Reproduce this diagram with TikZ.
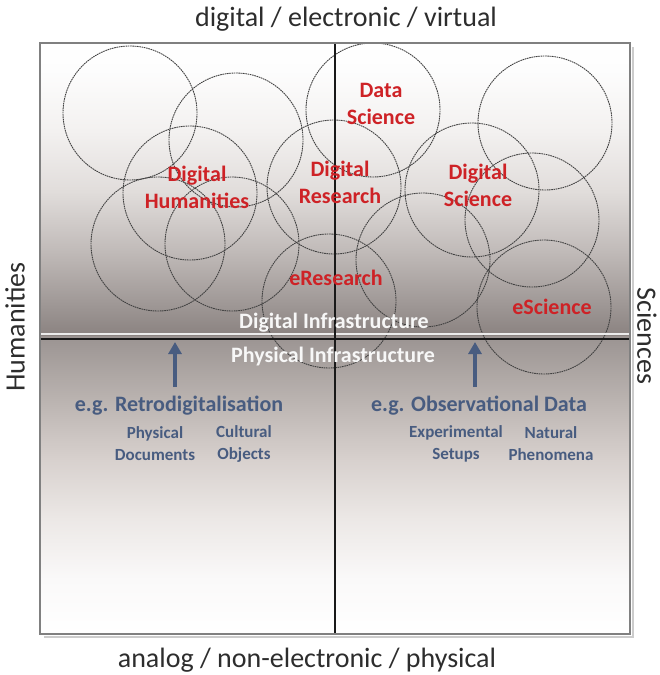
\documentclass[tikz,border=0pt]{standalone}
\usepackage{fontspec}
\setmainfont{Carlito}
\usetikzlibrary{arrows.meta}
\definecolor{redlab}{RGB}{206,34,38}
\definecolor{bluegray}{RGB}{72,92,128}
\definecolor{axistext}{RGB}{45,45,45}
\definecolor{frame}{RGB}{128,128,128}
\definecolor{ub0}{RGB}{138,130,128}
\definecolor{ub1}{RGB}{160,153,151}
\definecolor{ub2}{RGB}{192,186,184}
\definecolor{ub3}{RGB}{225,221,219}
\definecolor{ub4}{RGB}{243,241,240}
\definecolor{ub5}{RGB}{253,253,253}
\definecolor{lb0}{RGB}{155,148,146}
\definecolor{lb1}{RGB}{185,178,175}
\definecolor{lb2}{RGB}{215,208,205}
\definecolor{lb3}{RGB}{236,232,230}
\definecolor{lb4}{RGB}{250,249,249}
\pgfdeclareverticalshading{uppershade}{100bp}{color(0bp)=(ub0); color(25bp)=(ub0); color(30.8bp)=(ub1); color(39.4bp)=(ub2); color(49.7bp)=(ub3); color(60bp)=(ub4); color(70.4bp)=(ub5); color(75bp)=(white); color(100bp)=(white)}
\pgfdeclareverticalshading{lowershade}{100bp}{color(0bp)=(white); color(25bp)=(white); color(34.2bp)=(lb4); color(44.3bp)=(lb3); color(54.5bp)=(lb2); color(64.7bp)=(lb1); color(75bp)=(lb0); color(100bp)=(lb0)}
\tikzset{
  circ/.style={draw=black!75, dash pattern=on 1.6pt off 0.7pt, line width=0.9pt, circle, minimum size=134pt, inner sep=0pt},
  redlabel/.style={text=redlab, font=\fontsize{22}{27}\selectfont\bfseries, align=center, inner sep=0pt},
  whitelabel/.style={text=white!94!gray, font=\fontsize{22}{27}\selectfont\bfseries, inner sep=0pt},
  egtext/.style={text=bluegray, font=\fontsize{22}{27}\selectfont\bfseries, inner sep=0pt},
  subtext/.style={text=bluegray, font=\fontsize{17}{22}\selectfont\bfseries, align=center, inner sep=0pt},
  axislabel/.style={text=axistext, font=\fontsize{28}{32}\selectfont, inner sep=0pt},
  uparrow/.style={draw=bluegray, line width=4.5pt, -{Triangle[width=13pt,length=12pt]}}
}
\begin{document}
\begin{tikzpicture}[x=1pt,y=-1pt]
\useasboundingbox (0,0) rectangle (659,675);
% shadow
\draw[black!20, line width=2pt] (632.5,47) -- (632.5,636.5) -- (44,636.5);
% backgrounds
\shade[shading=uppershade] (40,43) rectangle (630,336);
\shade[shading=lowershade] (40,336) rectangle (630,634);
% circles
\node[circ] (c1) at (130,113) {};
\node[circ] (c2) at (236,140) {};
\node[circ] (c3) at (190,193) {};
\node[circ] (c4) at (158,244) {};
\node[circ] (c5) at (232,244) {};
\node[circ] (c6) at (334,187) {};
\node[circ] (c7) at (373,110) {};
\node[circ] (c8) at (329,301) {};
\node[circ] (c9) at (472,190) {};
\node[circ] (c10) at (545,123) {};
\node[circ] (c11) at (532,220) {};
\node[circ] (c12) at (544,307) {};
\node[circ] (c13) at (423,260) {};
% divider lines
\draw[white!85!gray, line width=2pt] (40,334) -- (630,334);
\draw[black!90, line width=2pt] (40,338.5) -- (630,338.5);
\draw[black!90, line width=1.8pt] (335,43) -- (335,634);
% frame
\draw[frame, line width=1.5pt] (40,43) rectangle (630,634);
% axis labels
\node[axislabel] (top) at (346,19) {digital / electronic / virtual};
\node[axislabel] (bottom) at (307,660) {analog / non-electronic / physical};
\node[axislabel, rotate=90] (left) at (15,327) {Humanities};
\node[axislabel, rotate=-90] (right) at (647,336) {Sciences};
% red labels
\node[redlabel] (ds) at (381,104) {Data\\Science};
\node[redlabel] (dh) at (197,187) {Digital\\Humanities};
\node[redlabel] (dr) at (340,182) {Digital\\Research};
\node[redlabel] (dsc) at (478,185) {Digital\\Science};
\node[redlabel] (er) at (336,278) {eResearch};
\node[redlabel] (es) at (552,307) {eScience};
% infrastructure labels
\node[whitelabel] (dinf) at (334,323) {Digital Infrastructure};
\node[whitelabel] (pinf) at (333,357) {Physical Infrastructure};
% lower texts
\node[egtext] (retro) at (179,406) {e.g. Retrodigitalisation};
\node[egtext] (obs) at (479,406) {e.g. Observational Data};
\node[subtext] (phys) at (155,444) {Physical\\Documents};
\node[subtext] (cult) at (244,444) {Cultural\\Objects};
\node[subtext] (exp) at (456,444) {Experimental\\Setups};
\node[subtext] (nat) at (551,444) {Natural\\Phenomena};
% arrows
\coordinate (a1s) at (175,387);
\coordinate (a1t) at (175,342);
\coordinate (a2s) at (475,387);
\coordinate (a2t) at (475,342);
\draw[uparrow] (a1s) -- (a1t);
\draw[uparrow] (a2s) -- (a2t);
\end{tikzpicture}
\end{document}
